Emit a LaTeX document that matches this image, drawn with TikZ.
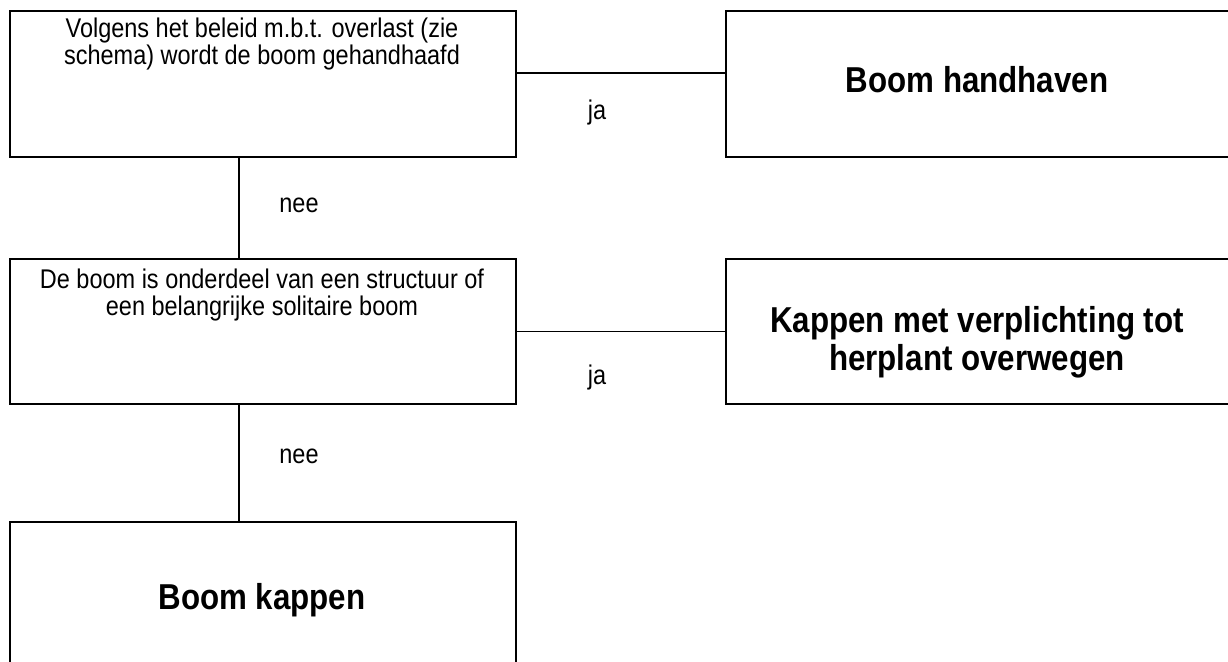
\documentclass[tikz,border=0pt]{standalone}
\usepackage{graphicx}
\usepackage{fontspec}
\setmainfont{Liberation Sans}
\newcommand{\vst}[1]{\scalebox{1}[1.15]{\begin{tabular}{@{}c@{}}#1\end{tabular}}}
\begin{document}
\begin{tikzpicture}[x=1pt,y=-1pt,
  box/.style={draw=black,line width=1.8pt,minimum width=506pt,minimum height=146pt,inner sep=0pt,anchor=north west},
  conn/.style={line width=1.4pt,draw=black},
  small/.style={font=\fontsize{23.5}{20.5}\selectfont,inner sep=0pt},
  big/.style={font=\fontsize{31.3}{33}\selectfont\bfseries,inner sep=0pt},
  lbl/.style={font=\fontsize{23.5}{27}\selectfont,inner sep=0pt}]
\useasboundingbox[fill=white] (0,0) rectangle (1228,661);
% boxes
\node[box] (b1) at (9,10) {};
\node[box] (b2) at (725,10) {};
\node[box,minimum height=145pt] (b3) at (9,258) {};
\node[box,minimum height=145pt] (b4) at (725,258) {};
\node[box] (b5) at (9,521) {};
% texts
\node[small,anchor=north] (t1) at (262,18) {\vst{Volgens het beleid m.b.t. overlast (zie\\schema) wordt de boom gehandhaafd}};
\node[big] (t2) at (977,85) {\vst{Boom handhaven}};
\node[small,anchor=north] (t3) at (262,269) {\vst{De boom is onderdeel van een structuur of\\een belangrijke solitaire boom}};
\node[big] (t4) at (977,344) {\vst{Kappen met verplichting tot\\herplant overwegen}};
\node[big] (t5) at (262,602) {\vst{Boom kappen}};
% connectors
\draw[conn] ([yshift=11pt]b1.east) -- ([yshift=11pt]b2.west);
\draw[conn] ([xshift=-24pt]b1.south) -- ([xshift=-24pt]b3.north);
\draw[conn] (b3.east) -- (b4.west);
\draw[conn] ([xshift=-24pt]b3.south) -- ([xshift=-24pt]b5.north);
% labels
\node[lbl] (ja1) at (597,113) {\vst{ja}};
\node[lbl] (nee1) at (299,206) {\vst{nee}};
\node[lbl] (ja2) at (597,378) {\vst{ja}};
\node[lbl] (nee2) at (299,457) {\vst{nee}};
\end{tikzpicture}
\end{document}
